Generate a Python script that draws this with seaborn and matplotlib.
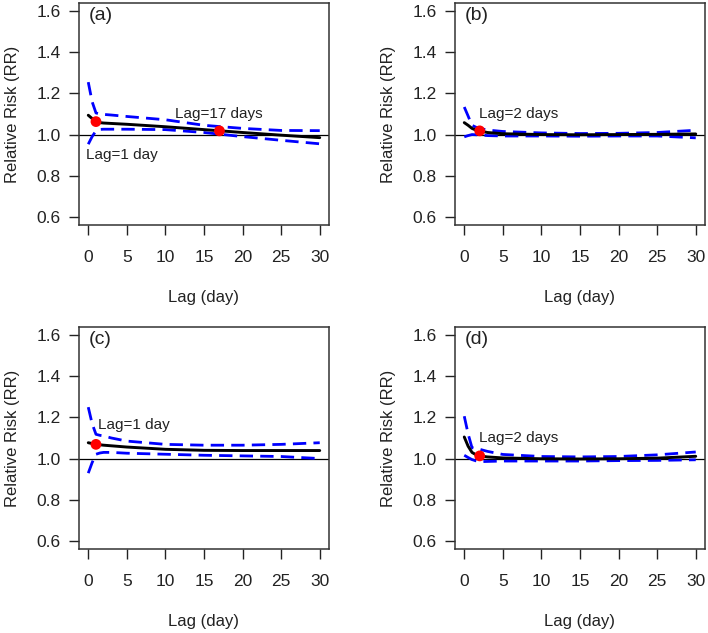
import matplotlib
matplotlib.use("Agg")
import matplotlib.pyplot as plt
import seaborn as sns

lags = [0, 0.5, 1, 1.5, 2, 3, 5, 10, 15, 20, 25, 30]

# panel (a)
est_a = [1.094, 1.078, 1.063, 1.058, 1.056, 1.054, 1.050, 1.038, 1.024, 1.010, 0.997, 0.985]
upp_a = [1.255, 1.160, 1.105, 1.100, 1.098, 1.095, 1.088, 1.072, 1.045, 1.030, 1.020, 1.019]
low_a = [0.953, 0.990, 1.018, 1.025, 1.026, 1.026, 1.026, 1.024, 1.010, 0.990, 0.972, 0.955]

# panel (b)
est_b = [1.058, 1.045, 1.030, 1.022, 1.018, 1.010, 1.004, 1.000, 0.999, 1.000, 1.001, 1.003]
upp_b = [1.134, 1.090, 1.045, 1.036, 1.030, 1.022, 1.015, 1.008, 1.005, 1.006, 1.010, 1.021]
low_b = [0.989, 0.995, 1.000, 0.999, 0.998, 0.995, 0.993, 0.993, 0.992, 0.993, 0.993, 0.984]

# panel (c)
est_c = [1.077, 1.073, 1.069, 1.067, 1.065, 1.062, 1.056, 1.045, 1.040, 1.039, 1.039, 1.039]
upp_c = [1.250, 1.170, 1.118, 1.113, 1.110, 1.100, 1.085, 1.069, 1.065, 1.065, 1.069, 1.077]
low_c = [0.929, 0.980, 1.021, 1.027, 1.030, 1.030, 1.026, 1.021, 1.016, 1.013, 1.010, 1.000]

# panel (d)
est_d = [1.105, 1.060, 1.030, 1.019, 1.013, 1.008, 1.003, 0.999, 0.998, 0.999, 1.002, 1.011]
upp_d = [1.206, 1.120, 1.053, 1.048, 1.045, 1.035, 1.020, 1.010, 1.008, 1.010, 1.018, 1.032]
low_d = [1.016, 1.005, 0.995, 0.989, 0.985, 0.986, 0.988, 0.988, 0.988, 0.990, 0.991, 0.994]

# highlighted lags (x, RR) and their text labels
dots_a = ([1, 17], [1.063, 1.018])
dots_b = ([2], [1.018])
dots_c = ([1], [1.069])
dots_d = ([2], [1.013])

notes_a = [("Lag=1 day", -0.3, 0.90), ("Lag=17 days", 11.3, 1.10)]
notes_b = [("Lag=2 days", 1.9, 1.10)]
notes_c = [("Lag=1 day", 1.2, 1.165)]
notes_d = [("Lag=2 days", 1.9, 1.10)]

panel_tags = ["(a)", "(b)", "(c)", "(d)"]

sns.set_theme(style="white")
plt.rcParams["font.family"] = ["Liberation Sans", "DejaVu Sans"]

fig = plt.figure(figsize=(7.08, 6.33), dpi=100)

W, H = 708, 633
boxes = [(79, 3), (455, 3), (79, 327), (455, 327)]
panels = [
    (est_a, upp_a, low_a, dots_a, notes_a),
    (est_b, upp_b, low_b, dots_b, notes_b),
    (est_c, upp_c, low_c, dots_c, notes_c),
    (est_d, upp_d, low_d, dots_d, notes_d),
]
ink = "#222222"

for (left, top), tag, (est, upp, low, dots, notes) in zip(boxes, panel_tags, panels):
    ax = fig.add_axes([left / W, 1 - (top + 222) / H, 250 / W, 222 / H])

    ax.axhline(1.0, color="black", lw=0.9, zorder=1)
    sns.lineplot(x=lags, y=upp, ax=ax, color="#0000FF", lw=2.0,
                 zorder=2).lines[-1].set_dashes((4.8, 2.6))
    sns.lineplot(x=lags, y=low, ax=ax, color="#0000FF", lw=2.0,
                 zorder=2).lines[-1].set_dashes((4.8, 2.6))
    sns.lineplot(x=lags, y=est, ax=ax, color="black", lw=2.1, zorder=3)
    sns.scatterplot(x=dots[0], y=dots[1], ax=ax, color="#FF0000", s=60,
                    edgecolor="none", zorder=4)

    for txt, tx, ty in notes:
        ax.text(tx, ty, txt, fontsize=11, va="center", ha="left", color=ink)
    ax.text(0.0, 1.578, tag, fontsize=14, va="center", ha="left", color=ink)

    ax.set_xlim(-1.2, 31.2)
    ax.set_ylim(0.56, 1.64)
    ax.set_xticks([0, 5, 10, 15, 20, 25, 30])
    ax.set_yticks([0.6, 0.8, 1.0, 1.2, 1.4, 1.6])
    ax.set_yticklabels(["0.6", "0.8", "1.0", "1.2", "1.4", "1.6"])

    ax.tick_params(axis="both", direction="out", length=7, width=1,
                   color=ink, labelsize=12.5, labelcolor=ink)
    ax.tick_params(axis="x", pad=11, bottom=True)
    ax.tick_params(axis="y", pad=6, left=True)

    for sp in ax.spines.values():
        sp.set_visible(True)
        sp.set_color("#333333")
        sp.set_linewidth(1.1)

    ax.set_xlabel("Lag (day)", fontsize=12, color=ink)
    ax.set_ylabel("Relative Risk (RR)", fontsize=12, color=ink)
    ax.xaxis.set_label_coords(0.5, -0.292)
    ax.yaxis.set_label_coords(-0.236, 0.5)
    ax.grid(False)

fig.savefig("out.png", dpi=100, facecolor="white")
